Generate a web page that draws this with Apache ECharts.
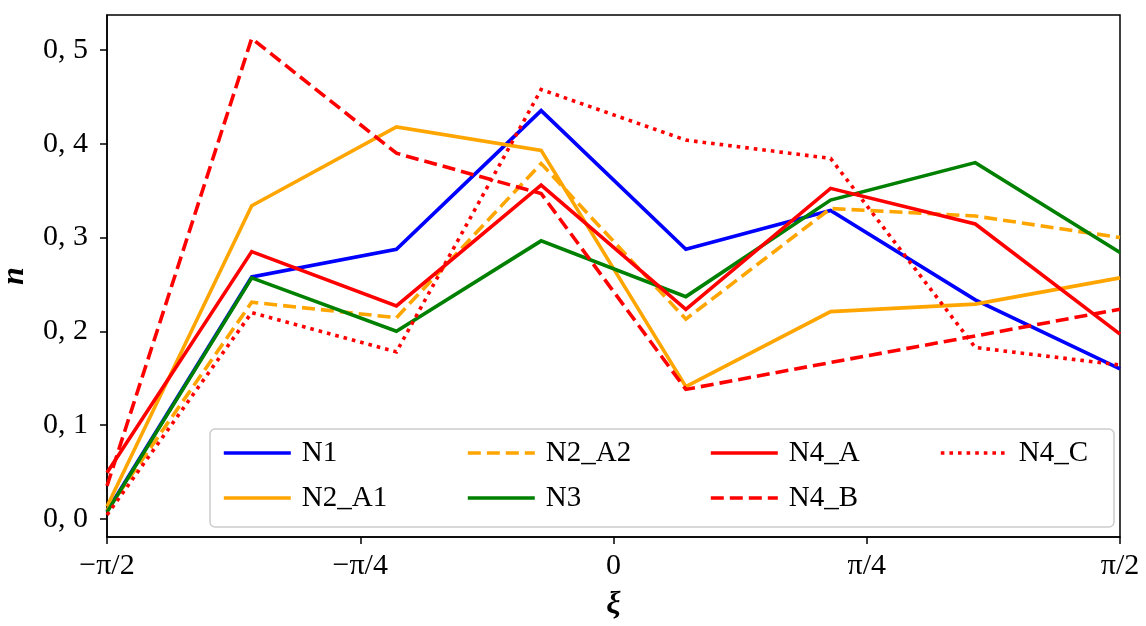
<!DOCTYPE html>
<html>
<head>
<meta charset="utf-8">
<script src="https://cdn.jsdelivr.net/npm/echarts@6/dist/echarts.min.js"></script>
<style>
  html, body { margin: 0; padding: 0; background: #fff; }
  #chart { width: 1146px; height: 626px; }
</style>
</head>
<body>
<div id="chart"></div>
<script>
// Sample positions along ξ (radians), from −π/2 to π/2 in eight steps
const xi = [-1.5708, -1.1220, -0.6732, -0.2244, 0.2244, 0.6732, 1.1220, 1.5708];

// n(ξ) for each configuration
const N1    = [0.008, 0.258, 0.2875, 0.4355, 0.2875, 0.329, 0.2335, 0.160];
const N2_A1 = [0.013, 0.334, 0.418, 0.393, 0.141, 0.221, 0.229, 0.257];
const N2_A2 = [0.009, 0.231, 0.2145, 0.379, 0.213, 0.331, 0.323, 0.300];
const N3    = [0.007, 0.257, 0.200, 0.2965, 0.237, 0.340, 0.380, 0.284];
const N4_A  = [0.049, 0.285, 0.227, 0.356, 0.2235, 0.3525, 0.3145, 0.197];
const N4_B  = [0.035, 0.5125, 0.390, 0.347, 0.138, 0.1667, 0.195, 0.2236];
const N4_C  = [0.004, 0.220, 0.178, 0.458, 0.404, 0.3845, 0.1827, 0.164];

// Axis ticks and their labels
const xTicks = [-Math.PI / 2, -Math.PI / 4, 0, Math.PI / 4, Math.PI / 2];
const xTickLabels = ['\u2212\u03c0/2', '\u2212\u03c0/4', '0', '\u03c0/4', '\u03c0/2'];
const yTicks = [0, 0.1, 0.2, 0.3, 0.4, 0.5];

const FONT = '"Liberation Serif", "DejaVu Serif", serif';
const LINE_W = 3.6;
const DASHED = [13, 6];
const DOTTED = [3.6, 5];

const seriesDefs = [
  { name: 'N1',    data: N1,    color: '#0000ff', type: 'solid' },
  { name: 'N2_A1', data: N2_A1, color: '#ffa500', type: 'solid' },
  { name: 'N2_A2', data: N2_A2, color: '#ffa500', type: DASHED },
  { name: 'N3',    data: N3,    color: '#008000', type: 'solid' },
  { name: 'N4_A',  data: N4_A,  color: '#ff0000', type: 'solid' },
  { name: 'N4_B',  data: N4_B,  color: '#ff0000', type: DASHED },
  { name: 'N4_C',  data: N4_C,  color: '#ff0000', type: DOTTED }
];

const series = seriesDefs.map(s => ({
  name: s.name,
  type: 'line',
  data: xi.map((x, i) => [x, s.data[i]]),
  symbol: 'none',
  showSymbol: false,
  color: s.color,
  lineStyle: { color: s.color, width: LINE_W, type: s.type, cap: 'butt', join: 'miter' },
  clip: true,
  animation: false
}));

// Legend columns (filled top to bottom, then left to right)
const legendCols = [
  { left: 222, names: ['N1', 'N2_A1'] },
  { left: 466, names: ['N2_A2', 'N3'] },
  { left: 709, names: ['N4_A', 'N4_B'] },
  { left: 939, names: ['N4_C'] }
];

const legends = legendCols.map(c => ({
  orient: 'vertical',
  left: c.left,
  top: 438,
  padding: 0,
  data: c.names,
  itemWidth: 67,
  itemHeight: 14,
  itemGap: 15,
  selectedMode: false,
  z: 101,
  itemStyle: { opacity: 0 },
  lineStyle: { width: LINE_W },
  textStyle: { fontFamily: FONT, fontSize: 29, color: '#000', padding: [0, 0, 0, 6], lineHeight: 30 }
}));

const chart = echarts.init(document.getElementById('chart'), null, { renderer: 'canvas' });

chart.setOption({
  animation: false,
  backgroundColor: '#fff',
  grid: {
    left: 107, right: 26, top: 15, bottom: 89,
    outerBoundsMode: 'none',
    containLabel: false,
    show: true, borderColor: '#000', borderWidth: 1.5, backgroundColor: 'transparent'
  },
  xAxis: {
    type: 'value',
    min: -Math.PI / 2,
    max: Math.PI / 2,
    name: '\u03be',
    nameLocation: 'middle',
    nameGap: 52,
    nameTextStyle: { fontFamily: FONT, fontSize: 32, fontWeight: 'bold', fontStyle: 'italic', color: '#000' },
    axisLine: { show: true, onZero: false, lineStyle: { color: '#000', width: 1.5 } },
    axisTick: { show: true, length: 7, lineStyle: { color: '#000', width: 1.5 }, customValues: xTicks },
    axisLabel: {
      customValues: xTicks,
      margin: 14,
      fontFamily: FONT, fontSize: 30, color: '#000',
      formatter: v => {
        let best = 0;
        xTicks.forEach((t, i) => { if (Math.abs(t - v) < Math.abs(xTicks[best] - v)) best = i; });
        return xTickLabels[best];
      }
    },
    splitLine: { show: false }
  },
  yAxis: {
    type: 'value',
    min: -0.0195,
    max: 0.5375,
    name: 'n',
    nameLocation: 'middle',
    nameRotate: 90,
    nameGap: 76,
    nameTextStyle: { fontFamily: FONT, fontSize: 32, fontWeight: 'bold', fontStyle: 'italic', color: '#000' },
    axisLine: { show: true, onZero: false, lineStyle: { color: '#000', width: 1.5 } },
    axisTick: { show: true, length: 7, lineStyle: { color: '#000', width: 1.5 }, customValues: yTicks },
    axisLabel: {
      customValues: yTicks,
      margin: 19,
      fontFamily: FONT, fontSize: 30, color: '#000',
      formatter: v => v.toFixed(1).replace('.', ', ')
    },
    splitLine: { show: false }
  },
  legend: legends,
  graphic: [{
    type: 'rect',
    z: 100,
    shape: { x: 210, y: 429, width: 904, height: 98, r: 5 },
    style: { fill: 'rgba(255,255,255,0.85)', stroke: '#cccccc', lineWidth: 1.5 }
  }],
  series: series
});
</script>
</body>
</html>
